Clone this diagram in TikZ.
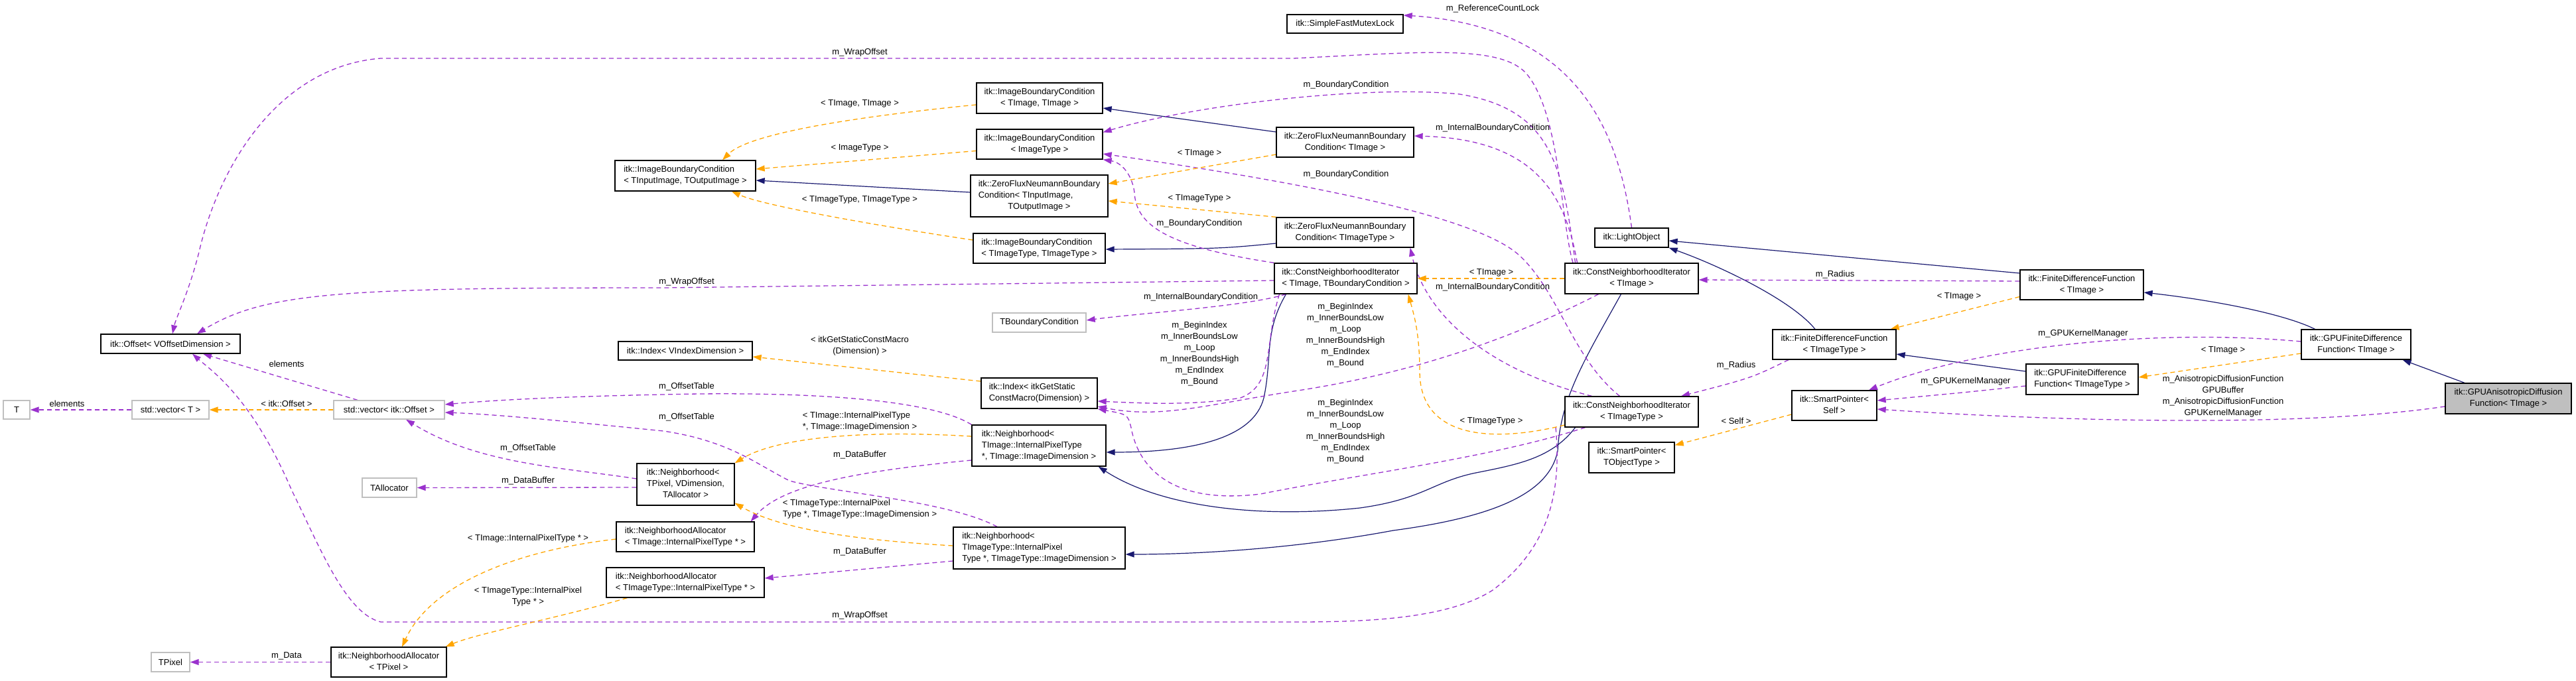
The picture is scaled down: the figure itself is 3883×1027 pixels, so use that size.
\documentclass[tikz,border=0pt]{standalone}
\usepackage{fontspec}
\setmainfont{Liberation Sans}
\usetikzlibrary{arrows.meta}
\pgfdeclarelayer{bg}
\pgfsetlayers{bg,main}
\definecolor{inhc}{HTML}{191970}
\definecolor{usec}{HTML}{9A32CD}
\definecolor{tplc}{HTML}{FFA500}
\definecolor{grayc}{HTML}{BFBFBF}
\newcommand{\twol}[2]{\begin{tabular}{@{}l@{}}#1\\\multicolumn{1}{@{}c@{}}{#2}\end{tabular}}
\newcommand{\threel}[3]{\begin{tabular}{@{}l@{}}#1\\#2\\\multicolumn{1}{@{}c@{}}{#3}\end{tabular}}
\begin{document}
\begin{tikzpicture}[x=1pt,y=-1pt,font=\fontsize{13}{17}\selectfont,
  box/.style={draw=black,line width=1.3pt,fill=white,inner sep=0pt,align=center},
  ubox/.style={box,draw=grayc},
  lbl/.style={inner sep=0pt,align=center},
  tip/.style={-{Triangle[length=13pt,width=9pt]}},
  inh/.style={draw=inhc,line width=1.2pt,tip},
  use/.style={draw=usec,line width=1.3pt,dash pattern=on 7pt off 5pt,tip},
  tpl/.style={draw=tplc,line width=1.3pt,dash pattern=on 7pt off 5pt,tip}]
\useasboundingbox (0,0) rectangle (3883,1027);
% ---------------- nodes
\node[ubox,minimum width=40pt,minimum height=28pt] (nT) at (25,618) {T};
\node[ubox,minimum width=116pt,minimum height=28pt] (nVecT) at (257,618) {std::vector< T >};
\node[ubox,minimum width=167pt,minimum height=28pt] (nVecOff) at (586.5,618) {std::vector< itk::Offset >};
\node[box,minimum width=210pt,minimum height=29pt] (nOffset) at (257,518.5) {itk::Offset< VOffsetDimension >};
\node[ubox,minimum width=82pt,minimum height=29pt] (nTAlloc) at (587,735.5) {TAllocator};
\node[ubox,minimum width=58pt,minimum height=29pt] (nTPixel) at (257,998.5) {TPixel};
\node[box,minimum width=174pt,minimum height=45pt] (nNAlloc) at (586,998.5) {\twol{itk::NeighborhoodAllocator}{< TPixel >}};
\node[box,minimum width=147pt,minimum height=63pt] (nNbhd) at (1033.5,730.5) {\threel{itk::Neighborhood<}{ TPixel, VDimension,}{TAllocator >}};
\node[box,minimum width=208pt,minimum height=45pt] (nNAllocImg) at (1033,809.5) {\twol{itk::NeighborhoodAllocator}{< TImage::InternalPixelType * >}};
\node[box,minimum width=238pt,minimum height=45pt] (nNAllocImgT) at (1033,878.5) {\twol{itk::NeighborhoodAllocator}{< TImageType::InternalPixelType * >}};
\node[box,minimum width=202pt,minimum height=28pt] (nIndexV) at (1033,529) {itk::Index< VIndexDimension >};
\node[box,minimum width=212pt,minimum height=46pt] (nIBCio) at (1033,265) {\twol{itk::ImageBoundaryCondition}{< TInputImage, TOutputImage >}};
\node[box,minimum width=190pt,minimum height=46pt] (nIBCii) at (1567,148) {\twol{itk::ImageBoundaryCondition}{< TImage, TImage >}};
\node[box,minimum width=190pt,minimum height=45pt] (nIBCimg) at (1567,217.5) {\twol{itk::ImageBoundaryCondition}{< ImageType >}};
\node[box,minimum width=207pt,minimum height=63pt] (nZFio) at (1566.5,295.5) {\threel{itk::ZeroFluxNeumannBoundary}{Condition< TInputImage,}{TOutputImage >}};
\node[box,minimum width=199pt,minimum height=45pt] (nIBCtt) at (1566.5,374.5) {\twol{itk::ImageBoundaryCondition}{< TImageType, TImageType >}};
\node[ubox,minimum width=141pt,minimum height=29pt] (nTBC) at (1566.5,486.5) {TBoundaryCondition};
\node[box,minimum width=175pt,minimum height=46pt] (nIndexM) at (1566.5,593) {\twol{itk::Index< itkGetStatic}{ConstMacro(Dimension) >}};
\node[box,minimum width=202pt,minimum height=62pt] (nNbhdImg) at (1566,672) {\threel{itk::Neighborhood<}{ TImage::InternalPixelType}{*, TImage::ImageDimension >}};
\node[box,minimum width=259pt,minimum height=63pt] (nNbhdImgT) at (1566.5,826.5) {\threel{itk::Neighborhood<}{ TImageType::InternalPixel}{Type *, TImageType::ImageDimension >}};
\node[box,minimum width=175pt,minimum height=28pt] (nMutex) at (2027.5,36) {itk::SimpleFastMutexLock};
\node[box,minimum width=207pt,minimum height=45pt] (nZFimg) at (2027.5,214.5) {\twol{itk::ZeroFluxNeumannBoundary}{Condition< TImage >}};
\node[box,minimum width=207pt,minimum height=45pt] (nZFimgT) at (2027.5,350.5) {\twol{itk::ZeroFluxNeumannBoundary}{Condition< TImageType >}};
\node[box,minimum width=215pt,minimum height=46pt] (nCNIb) at (2028.5,420) {\twol{itk::ConstNeighborhoodIterator}{< TImage, TBoundaryCondition >}};
\node[box,minimum width=111pt,minimum height=29pt] (nLight) at (2459.5,358.5) {itk::LightObject};
\node[box,minimum width=201pt,minimum height=46pt] (nCNIimg) at (2459.5,420) {\twol{itk::ConstNeighborhoodIterator}{< TImage >}};
\node[box,minimum width=201pt,minimum height=46pt] (nCNIimgT) at (2459.5,621) {\twol{itk::ConstNeighborhoodIterator}{< TImageType >}};
\node[box,minimum width=129pt,minimum height=46pt] (nSPobj) at (2459.5,690) {\twol{itk::SmartPointer<}{TObjectType >}};
\node[box,minimum width=186pt,minimum height=45pt] (nFDFt) at (2765,519.5) {\twol{itk::FiniteDifferenceFunction}{< TImageType >}};
\node[box,minimum width=128pt,minimum height=45pt] (nSPself) at (2765,611.5) {\twol{itk::SmartPointer<}{Self >}};
\node[box,minimum width=186pt,minimum height=45pt] (nFDFi) at (3138,429.5) {\twol{itk::FiniteDifferenceFunction}{< TImage >}};
\node[box,minimum width=169pt,minimum height=46pt] (nGFDFt) at (3138.5,572) {\twol{itk::GPUFiniteDifference}{Function< TImageType >}};
\node[box,minimum width=165pt,minimum height=45pt] (nGFDFi) at (3551.5,519.5) {\twol{itk::GPUFiniteDifference}{Function< TImage >}};
\node[box,fill=grayc,minimum width=190pt,minimum height=46pt] (nGAD) at (3781,601) {\twol{itk::GPUAnisotropicDiffusion}{Function< TImage >}};
% ---------------- labels
\node[lbl] (l01) at (2250,13) {m\_ReferenceCountLock};
\node[lbl] (l02) at (1296,79) {m\_WrapOffset};
\node[lbl] (l03) at (2029,128) {m\_BoundaryCondition};
\node[lbl] (l04) at (1296,156) {< TImage, TImage >};
\node[lbl] (l05) at (2250,193) {m\_InternalBoundaryCondition};
\node[lbl] (l06) at (1296,223) {< ImageType >};
\node[lbl] (l07) at (1808,231) {< TImage >};
\node[lbl] (l08) at (2029,263) {m\_BoundaryCondition};
\node[lbl] (l09) at (1808,299) {< TImageType >};
\node[lbl] (l10) at (1296,301) {< TImageType, TImageType >};
\node[lbl] (l11) at (1808,337) {m\_BoundaryCondition};
\node[lbl] (l12) at (2248,411) {< TImage >};
\node[lbl] (l13) at (2766,414) {m\_Radius};
\node[lbl] (l14) at (1035,425) {m\_WrapOffset};
\node[lbl] (l15) at (2250,433) {m\_InternalBoundaryCondition};
\node[lbl] (l16) at (2953,447) {< TImage >};
\node[lbl] (l17) at (1810,448) {m\_InternalBoundaryCondition};
\node[lbl] (l18) at (2028,506) {m\_BeginIndex\\m\_InnerBoundsLow\\m\_Loop\\m\_InnerBoundsHigh\\m\_EndIndex\\m\_Bound};
\node[lbl] (l19) at (1808,534) {m\_BeginIndex\\m\_InnerBoundsLow\\m\_Loop\\m\_InnerBoundsHigh\\m\_EndIndex\\m\_Bound};
\node[lbl] (l20) at (3140,503) {m\_GPUKernelManager};
\node[lbl] (l21) at (1296,522) {\twol{< itkGetStaticConstMacro}{(Dimension) >}};
\node[lbl] (l22) at (3351,528) {< TImage >};
\node[lbl] (l23) at (432,549) {elements};
\node[lbl] (l24) at (2617,551) {m\_Radius};
\node[lbl] (l25) at (2963,575) {m\_GPUKernelManager};
\node[lbl] (l26) at (3351,597.5) {m\_AnisotropicDiffusionFunction\\GPUBuffer\\m\_AnisotropicDiffusionFunction\\GPUKernelManager};
\node[lbl] (l27) at (1035,583) {m\_OffsetTable};
\node[lbl] (l28) at (2028,651) {m\_BeginIndex\\m\_InnerBoundsLow\\m\_Loop\\m\_InnerBoundsHigh\\m\_EndIndex\\m\_Bound};
\node[lbl] (l29) at (101,609) {elements};
\node[lbl] (l30) at (432,609) {< itk::Offset >};
\node[lbl] (l31) at (1035,629) {m\_OffsetTable};
\node[lbl] (l32) at (1296,635.5) {\twol{< TImage::InternalPixelType}{*, TImage::ImageDimension >}};
\node[lbl] (l33) at (2248,635) {< TImageType >};
\node[lbl] (l34) at (2617,635) {< Self >};
\node[lbl] (l35) at (796,676) {m\_OffsetTable};
\node[lbl] (l36) at (1296,686) {m\_DataBuffer};
\node[lbl] (l37) at (796,725) {m\_DataBuffer};
\node[lbl] (l38) at (1296,767.5) {\twol{< TImageType::InternalPixel}{Type *, TImageType::ImageDimension >}};
\node[lbl] (l39) at (796,812) {< TImage::InternalPixelType * >};
\node[lbl] (l40) at (1296,832) {m\_DataBuffer};
\node[lbl] (l41) at (796,899.5) {\twol{< TImageType::InternalPixel}{Type * >}};
\node[lbl] (l42) at (1296,928) {m\_WrapOffset};
\node[lbl] (l43) at (432,989) {m\_Data};
% ---------------- edges
\begin{pgfonlayer}{bg}
% inheritance
\draw[inh] ([xshift=-66pt]nGAD.north) -- ([xshift=70pt]nGFDFi.south);
\draw[inh] ([xshift=-62pt]nGFDFi.north) .. controls (3440,472) and (3330,452) .. ([yshift=-11.5pt]nFDFi.east);
\draw[inh] ([yshift=17.5pt]nFDFi.west) -- ([yshift=-4.5pt]nLight.east);
\draw[inh] ([xshift=-29pt]nFDFt.north) .. controls (2700,452) and (2590,400) .. (nLight.south east);
\draw[inh] ([yshift=12pt]nGFDFt.west) -- ([yshift=-14.5pt]nFDFt.east);
\draw[inh] ([yshift=15.5pt]nZFimg.west) -- ([yshift=-15pt]nIBCii.east);
\draw[inh] ([yshift=5.5pt]nZFio.west) -- ([yshift=-7pt]nIBCio.east);
\draw[inh] ([yshift=-16.5pt]nZFimgT.west) .. controls (1840,375) .. ([yshift=-1.5pt]nIBCtt.east);
\draw[inh] ([xshift=-90pt]nCNIb.south) .. controls (1905,500) and (1918,540) .. (1905,600) .. controls (1890,660) and (1800,682) .. ([yshift=-10pt]nNbhdImg.east);
\draw[inh] ([xshift=-85pt]nCNIimgT.south) .. controls (2340,690) and (2290,700) .. (2230,712) .. controls (2160,725) and (2150,752) .. (2050,766) .. controls (1900,782) and (1750,765) .. ([xshift=-12pt]nNbhdImg.south east);
\draw[inh] ([xshift=-16pt]nCNIimg.south) .. controls (2390,540) and (2352,600) .. (2348,680) .. controls (2335,745) and (2250,780) .. (2100,800) .. controls (1950,828) and (1800,836) .. ([yshift=-9.5pt]nNbhdImgT.east);
% usage
\draw[use] ([yshift=-12pt]nGAD.west) .. controls (3450,648) and (3050,632) .. ([yshift=-5.5pt]nSPself.east);
\draw[use] ([yshift=-10pt]nGFDFt.west) .. controls (2960,592) .. ([yshift=7.5pt]nSPself.east);
\draw[use] ([yshift=4.5pt]nGFDFi.west) .. controls (3250,495) and (2980,522) .. ([xshift=52pt]nSPself.north);
\draw[use] ([yshift=5.5pt]nFDFi.west) -- ([yshift=-2pt]nCNIimg.east);
\draw[use] ([xshift=-69pt]nFDFt.south) .. controls (2640,570) .. ([xshift=74.5pt]nCNIimgT.north);
\draw[use] (nLight.north) .. controls (2440,200) and (2380,40) .. ([yshift=13pt]nMutex.east);
\draw[use] ([xshift=-88.5pt]nCNIimg.north) .. controls (2352,330) and (2352,170) .. (2300,110) .. controls (2260,68) and (2150,78) .. (1950,88) -- (574,88) .. controls (420,100) and (330,250) .. (300,380) .. controls (285,440) and (265,480) .. ([xshift=3pt]nOffset.north);
\draw[use] ([xshift=-85pt]nCNIimg.north) .. controls (2355,250) and (2340,165) .. (2200,142) .. controls (2060,128) and (1800,158) .. ([yshift=18pt]nIBCimg.east);
\draw[use] ([xshift=-82pt]nCNIimg.north) .. controls (2360,300) and (2320,210) .. ([yshift=9.5pt]nZFimg.east);
\draw[use] ([yshift=-3pt]nCNIb.west) -- (1000,434) .. controls (520,434) and (400,440) .. ([xshift=40pt]nOffset.north);
\draw[use] ([xshift=-90pt]nCNIb.south) .. controls (1880,462) and (1720,472) .. ([yshift=3.5pt]nTBC.east);
\draw[use] ([xshift=-100pt]nCNIb.south) .. controls (1905,520) and (1922,580) .. (1870,600) .. controls (1800,612) and (1720,608) .. ([yshift=-12pt]nIndexM.east);
\draw[use] ([xshift=-50pt]nCNIimg.south) .. controls (2300,500) and (2150,560) .. (1950,590) .. controls (1820,610) and (1750,632) .. ([yshift=-20pt]nIndexM.east);
\draw[use] ([xshift=-70pt]nCNIimgT.south) .. controls (2250,690) and (2050,715) .. (1900,745) .. controls (1760,762) and (1715,700) .. (1705,645) .. controls (1700,625) .. (nIndexM.south east);
\draw[use] ([xshift=-60pt]nCNIimgT.north) .. controls (2250,560) and (2150,480) .. ([xshift=-6pt]nZFimgT.south east);
\draw[use] ([xshift=-18pt]nCNIimgT.north) .. controls (2370,540) and (2350,440) .. (2290,385) .. controls (2230,330) and (2000,280) .. ([yshift=-14.5pt]nIBCimg.east);
\draw[use] (nCNIb.north west) .. controls (1760,372) and (1712,340) .. (1710,290) .. controls (1706,262) and (1690,245) .. (nIBCimg.south east);
\draw[use] ([xshift=-114.5pt]nCNIimgT.south) .. controls (2355,750) and (2330,830) .. (2250,890) .. controls (2180,935) and (2050,938) .. (1950,938) -- (574,938) .. controls (520,925) and (480,820) .. (440,740) .. controls (380,600) and (320,560) .. ([xshift=33pt]nOffset.south);
\draw[use] (nNbhdImg.north west) .. controls (1400,600) and (1200,590) .. (1000,595) .. controls (850,598) and (750,603) .. ([yshift=8pt]nVecOff.east);
\draw[use] ([xshift=-63.5pt]nNbhdImgT.north) .. controls (1430,755) and (1250,742) .. (1190,725) .. controls (1140,700) and (1100,665) .. (1000,650) .. controls (850,635) and (750,625) .. ([yshift=-4pt]nVecOff.east);
\draw[use] ([yshift=8.5pt]nNbhd.west) .. controls (850,705) and (720,700) .. ([xshift=25.5pt]nVecOff.south);
\draw[use] ([yshift=-4.5pt]nNbhd.west) -- (nTAlloc.east);
\draw[use] ([yshift=-22pt]nNbhdImg.west) .. controls (1300,710) and (1180,730) .. ([xshift=-6pt]nNAllocImg.north east);
\draw[use] ([yshift=-19.5pt]nNbhdImgT.west) -- ([yshift=6.5pt]nNAllocImgT.east);
\draw[use] (nNAlloc.west) -- (nTPixel.east);
\draw[use] ([xshift=-47.5pt]nVecOff.north) -- ([xshift=49pt]nOffset.south);
\draw[use] (nVecT.west) -- (nT.east);
% template instances
\draw[tpl] (nVecOff.west) -- (nVecT.east);
\draw[tpl] ([yshift=18pt]nIndexM.west) -- ([yshift=-9pt]nIndexV.east);
\draw[tpl] ([yshift=14pt]nNbhdImg.west) .. controls (1300,648) and (1170,660) .. (nNbhd.north east);
\draw[tpl] ([yshift=3.5pt]nNbhdImgT.west) .. controls (1300,815) and (1180,800) .. ([yshift=4pt]nNbhd.south east);
\draw[tpl] ([yshift=-3.5pt]nNAllocImg.west) .. controls (780,830) and (650,880) .. ([xshift=20pt]nNAlloc.north);
\draw[tpl] ([xshift=32pt]nNAllocImgT.south west) .. controls (850,930) and (720,955) .. ([xshift=-2pt]nNAlloc.north east);
\draw[tpl] ([yshift=-10pt]nIBCii.west) .. controls (1300,175) and (1130,200) .. ([xshift=56pt]nIBCio.north);
\draw[tpl] ([yshift=-10pt]nIBCimg.west) -- ([yshift=10pt]nIBCio.east);
\draw[tpl] ([yshift=12.5pt]nIBCtt.west) .. controls (1320,340) and (1150,310) .. ([xshift=70pt]nIBCio.south);
\draw[tpl] ([yshift=-18.5pt]nZFimg.west) -- ([yshift=18.5pt]nZFio.east);
\draw[tpl] (nZFimgT.north west) -- ([yshift=-7.5pt]nZFio.east);
\draw[tpl] ([yshift=-18pt]nFDFi.west) -- ([xshift=-9pt]nFDFt.north east);
\draw[tpl] ([yshift=-13.5pt]nGFDFi.west) -- ([yshift=3pt]nGFDFt.east);
\draw[tpl] ([yshift=-13.5pt]nSPself.west) -- ([yshift=-5pt]nSPobj.north east);
\draw[tpl] (nCNIimg.west) -- (nCNIb.east);
\draw[tpl] ([yshift=-20pt]nCNIimgT.west) .. controls (2250,668) and (2140,662) .. (2140,560) .. controls (2140,500) and (2130,470) .. ([xshift=-14pt]nCNIb.south east);
\end{pgfonlayer}
\end{tikzpicture}
\end{document}
